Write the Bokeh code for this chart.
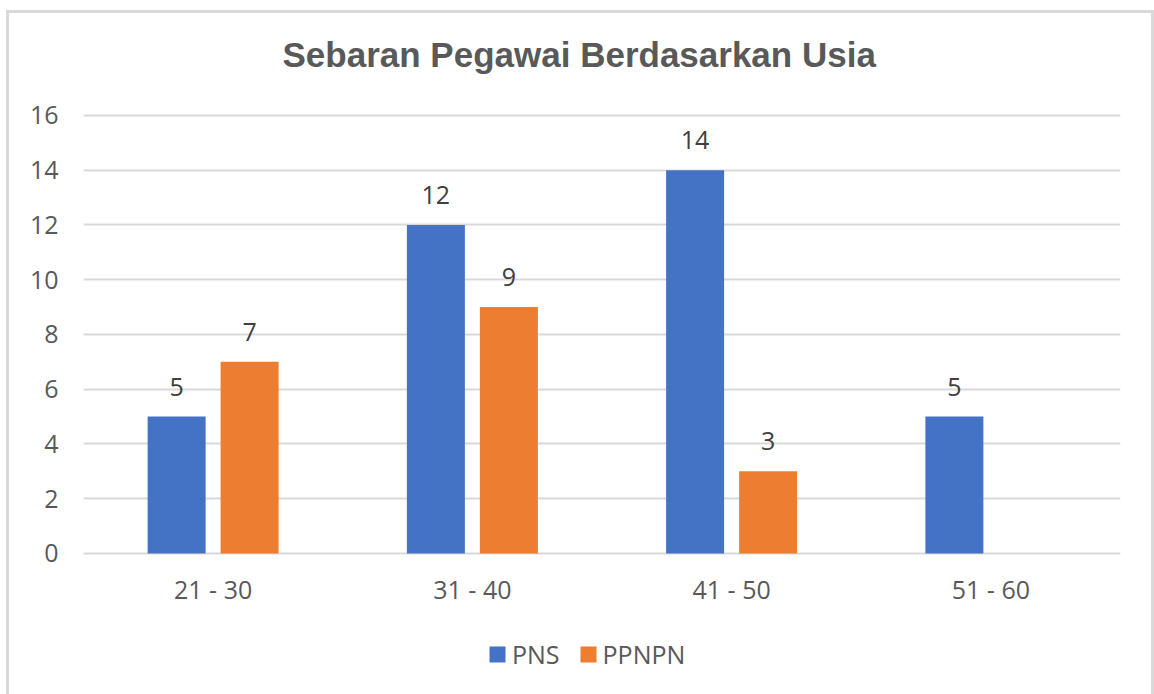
from bokeh.plotting import figure
from bokeh.models import FactorRange, Range1d, ColumnDataSource, LabelSet, Legend, LegendItem, FixedTicker, Title
from bokeh.transform import dodge
from bokeh.core.properties import value
from bokeh.embed import file_html
from bokeh.resources import INLINE

categories = ["21 - 30", "31 - 40", "41 - 50", "51 - 60"]
pns = [5, 12, 14, 5]
ppnpn = [7, 9, 3, 0]
series_names = ["PNS", "PPNPN"]
y_ticks = [0, 2, 4, 6, 8, 10, 12, 14, 16]

BLUE = "#4472C4"
ORANGE = "#ED7D31"
TXT = "#595959"
GRID = "#D9D9D9"
FONT = "Open Sans"

# frame extends to the canvas bottom so that category labels and legend can sit inside it
p = figure(
    width=1142, height=681, margin=(13, 0, 0, 9),
    x_range=FactorRange(*categories, range_padding=0),
    y_range=Range1d(-5.151, 16.073),
    output_backend="svg", toolbar_location=None,
    min_border_left=74, min_border_right=31, min_border_top=100, min_border_bottom=0,
    background_fill_color="white", border_fill_color="white",
)
p.styles = {"outline": "3px solid #D9D9D9", "outline-offset": "0px"}

p.title.text = "Sebaran Pegawai Berdasarkan Usia"
p.title.text_font = "Liberation Sans"
p.title.text_font_style = "bold"
p.title.text_font_size = "35px"
p.title.text_color = TXT
p.title.align = "left"
p.title.offset = 199
p.title.standoff = 0
# blank spacer between title and plot area
p.add_layout(Title(text=" ", text_font_size="1px", standoff=37), "above")

p.outline_line_color = None
p.xgrid.grid_line_color = None
p.ygrid.grid_line_color = GRID
p.ygrid.grid_line_width = 2
p.yaxis.ticker = FixedTicker(ticks=y_ticks)
p.xaxis.visible = False

ax = p.yaxis
ax.axis_line_color = None
ax.major_tick_line_color = None
ax.minor_tick_line_color = None
ax.major_tick_out = 0
ax.major_tick_in = 0
ax.major_label_text_font = FONT
ax.major_label_text_font_size = "25px"
ax.major_label_text_color = TXT
ax.major_label_standoff = 25

src = ColumnDataSource(dict(cat=categories, pns=pns, ppnpn=ppnpn, zero=[0] * len(categories)))
off = 0.1408
bw = 0.2237
r1 = p.vbar(x=dodge("cat", -off, range=p.x_range), top="pns", width=bw, source=src,
            fill_color=BLUE, line_color=None)
r2 = p.vbar(x=dodge("cat", off, range=p.x_range), top="ppnpn", width=bw, source=src,
            fill_color=ORANGE, line_color=None)

# category labels (x axis)
p.add_layout(LabelSet(x="cat", y="zero", text="cat", source=src, y_offset=-46,
                      text_align="center", text_baseline="alphabetic",
                      text_font=value(FONT), text_font_size=value("25px"),
                      text_color=value(TXT)))

lab1 = ColumnDataSource(dict(cat=[c for c, v in zip(categories, pns) if v > 0],
                             v=[v for v in pns if v > 0],
                             t=[str(v) for v in pns if v > 0]))
lab2 = ColumnDataSource(dict(cat=[c for c, v in zip(categories, ppnpn) if v > 0],
                             v=[v for v in ppnpn if v > 0],
                             t=[str(v) for v in ppnpn if v > 0]))
for s, o in ((lab1, -off), (lab2, off)):
    p.add_layout(LabelSet(x=dodge("cat", o, range=p.x_range), y="v", text="t", source=s,
                          y_offset=21, text_align="center", text_baseline="alphabetic",
                          text_font=value(FONT), text_font_size=value("25px"),
                          text_color=value("#404040")))

legend = Legend(items=[LegendItem(label=series_names[0], renderers=[r1]),
                       LegendItem(label=series_names[1], renderers=[r2])],
                orientation="horizontal", location=(404, 23),
                glyph_width=20, glyph_height=20, label_height=20, label_standoff=5, spacing=18,
                padding=0, margin=0, border_line_color=None, background_fill_alpha=0,
                label_text_font=FONT, label_text_font_size="25px", label_text_color=TXT)
p.add_layout(legend, "center")

open("out.html", "w").write(file_html(p, INLINE))
